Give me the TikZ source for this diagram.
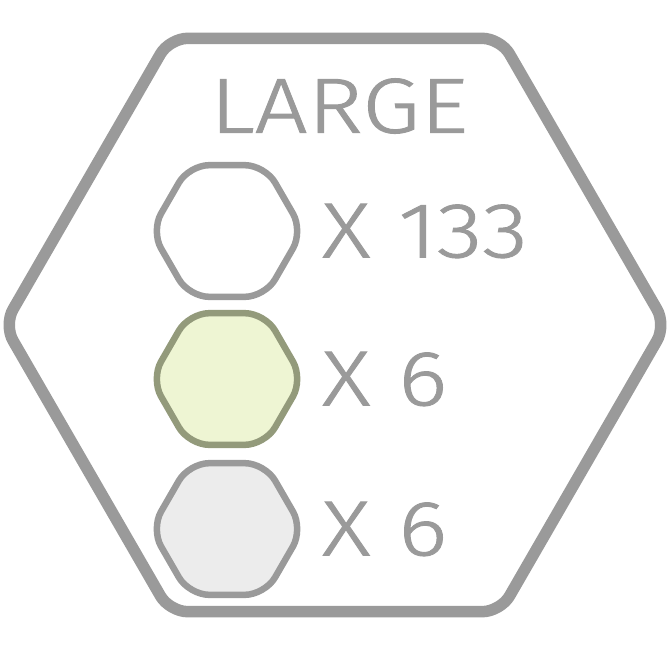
\documentclass[tikz,border=0pt]{standalone}
\usepackage{fontspec}
\setmainfont{Fira Sans Light}[FakeStretch=1.2,FakeBold=1.2]
\usetikzlibrary{shapes.geometric}
\definecolor{rimgray}{HTML}{9A9A9A}
\definecolor{leafgreen}{HTML}{EEF5D3}
\definecolor{leafedge}{HTML}{939A7B}
\definecolor{cellgray}{HTML}{ECECEC}
\tikzset{
  hexcell/.style={regular polygon, regular polygon sides=6, minimum size=152pt,
    inner sep=0pt, outer sep=0pt, line width=6.5pt, rounded corners=20pt, draw=rimgray},
  countlabel/.style={anchor=west, inner sep=0pt, text=rimgray,
    font=\fontsize{78}{78}\selectfont},
}
\begin{document}
\begin{tikzpicture}[x=1pt,y=-1pt]
  \useasboundingbox (0,0) rectangle (670,670);
  \node[regular polygon, regular polygon sides=6, minimum size=662pt, inner sep=0pt,
    outer sep=0pt, draw=rimgray, line width=11.5pt, rounded corners=18pt] (board) at (335,325) {};
  \node[countlabel, anchor=center] (title) at (339,106) {LARGE};
  \foreach \row/\ycen/\fillc/\edgec/\tally in {plain/231/white/rimgray/133,
      green/379/leafgreen/leafedge/6, grey/529/cellgray/rimgray/6} {
    \node[hexcell, fill=\fillc, draw=\edgec] (cell-\row) at (227,\ycen) {};
    \node[countlabel] (count-\row) at (322,\ycen) {X\hspace{28pt}\tally};
  }
\end{tikzpicture}
\end{document}
